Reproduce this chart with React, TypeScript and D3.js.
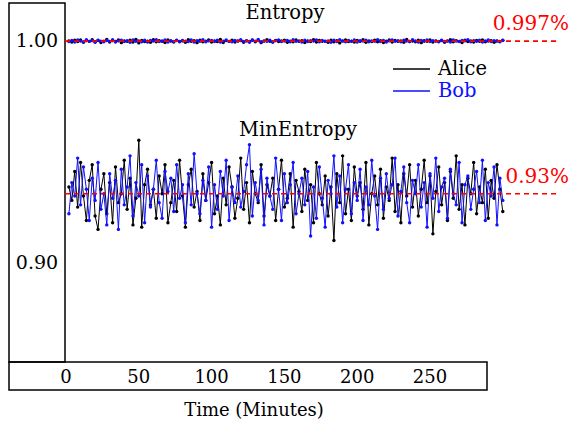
import * as d3 from "d3";

// sample times (minutes)
const minutes = [
  2, 4, 6, 8, 10, 12, 14, 16, 18, 20, 22, 24, 26, 28, 30,
  32, 34, 36, 38, 40, 42, 44, 46, 48, 50, 52, 54, 56, 58, 60,
  62, 64, 66, 68, 70, 72, 74, 76, 78, 80, 82, 84, 86, 88, 90,
  92, 94, 96, 98, 100, 102, 104, 106, 108, 110, 112, 114, 116, 118, 120,
  122, 124, 126, 128, 130, 132, 134, 136, 138, 140, 142, 144, 146, 148, 150,
  152, 154, 156, 158, 160, 162, 164, 166, 168, 170, 172, 174, 176, 178, 180,
  182, 184, 186, 188, 190, 192, 194, 196, 198, 200, 202, 204, 206, 208, 210,
  212, 214, 216, 218, 220, 222, 224, 226, 228, 230, 232, 234, 236, 238, 240,
  242, 244, 246, 248, 250, 252, 254, 256, 258, 260, 262, 264, 266, 268, 270,
  272, 274, 276, 278, 280, 282, 284, 286, 288, 290, 292, 294, 296, 298, 300,
];

const aliceEntropy = [
  0.9996, 0.9991, 0.9999, 0.9993, 1.0, 0.999, 0.9997, 0.9994, 1.0001, 0.9992,
  0.9998, 0.9989, 0.9995, 1.0002, 0.9991, 0.9997, 0.9993, 1.0, 0.9988, 0.9996,
  0.9994, 0.9999, 0.9991, 1.0003, 0.9987, 0.9998, 0.9993, 0.9995, 0.999, 1.0001,
  0.9992, 0.9997, 0.9994, 0.9989, 1.0, 0.9995, 0.9991, 0.9998, 0.9993, 0.9996,
  0.999, 1.0001, 0.9994, 0.9997, 0.9988, 0.9999, 0.9992, 0.9995, 1.0, 0.9991,
  0.9996, 0.9993, 1.0002, 0.9989, 0.9997, 0.9994, 0.9999, 0.9991, 0.9995, 0.9998,
  0.999, 0.9996, 0.9993, 1.0, 0.9992, 0.9997, 0.9988, 0.9995, 1.0001, 0.9994,
  0.9991, 0.9998, 0.9993, 0.9996, 0.9999, 0.999, 0.9995, 0.9992, 1.0, 0.9994,
  0.9997, 0.9989, 0.9996, 0.9993, 1.0001, 0.9991, 0.9998, 0.9994, 0.9995, 0.999,
  0.9999, 0.9992, 0.9997, 0.9987, 0.9996, 1.0, 0.9993, 0.9995, 0.9991, 0.9998,
  0.9994, 1.0001, 0.999, 0.9996, 0.9993, 0.9999, 0.9992, 0.9997, 0.9989, 0.9995,
  1.0, 0.9991, 0.9998, 0.9994, 0.9996, 0.999, 1.0002, 0.9993, 0.9995, 0.9992,
  0.9999, 0.9988, 0.9997, 0.9994, 1.0, 0.9991, 0.9996, 0.9993, 0.9998, 0.999,
  0.9995, 1.0001, 0.9992, 0.9997, 0.9994, 0.9989, 0.9999, 0.9993, 0.9996, 0.9991,
  0.9998, 0.9994, 1.0, 0.9992, 0.9995, 0.9997, 0.999, 0.9996, 0.9993, 0.9999,
];

const bobEntropy = [
  0.9993, 0.9998, 0.9991, 1.0, 0.9995, 0.9992, 1.0001, 0.9994, 0.9997, 0.999,
  0.9999, 0.9995, 0.9992, 0.9998, 0.9994, 1.0001, 0.9991, 0.9996, 0.9999, 0.9993,
  0.9997, 0.999, 1.0, 0.9994, 0.9996, 0.9992, 0.9999, 0.9991, 0.9998, 0.9995,
  1.0001, 0.9993, 0.9996, 1.0, 0.9991, 0.9997, 0.9994, 0.9999, 0.9992, 0.9998,
  0.9995, 0.9993, 1.0, 0.9991, 0.9997, 0.9994, 1.0001, 0.9992, 0.9996, 0.9998,
  0.9993, 0.9999, 0.9991, 0.9995, 1.0, 0.9994, 0.9992, 0.9998, 0.9996, 1.0001,
  0.9993, 0.9997, 0.999, 0.9999, 0.9995, 1.0002, 0.9992, 0.9996, 0.9994, 0.9999,
  0.9991, 0.9997, 1.0, 0.9993, 0.9995, 0.9998, 0.9992, 1.0001, 0.9994, 0.9996,
  0.9991, 0.9999, 0.9993, 0.9997, 0.9995, 1.0, 0.9992, 0.9998, 0.9994, 0.9996,
  0.999, 0.9999, 0.9993, 1.0001, 0.9995, 0.9992, 0.9998, 0.9994, 1.0, 0.9991,
  0.9997, 0.9995, 0.9999, 0.9992, 0.9996, 0.9994, 1.0001, 0.9993, 0.9998, 0.9991,
  0.9996, 1.0, 0.9994, 0.9997, 0.9992, 0.9999, 0.9995, 0.9993, 1.0001, 0.9996,
  0.9991, 0.9998, 0.9994, 1.0, 0.9993, 0.9997, 0.9995, 0.9992, 0.9999, 0.9994,
  0.9996, 0.9991, 1.0, 0.9995, 0.9993, 0.9998, 0.9996, 1.0001, 0.9992, 0.9997,
  0.9994, 0.9999, 0.9991, 0.9996, 1.0, 0.9993, 0.9997, 0.9995, 0.9992, 0.9998,
];

const aliceMinEntropy = [
  0.934, 0.928, 0.941, 0.925, 0.945, 0.93, 0.919, 0.937, 0.944, 0.921,
  0.915, 0.933, 0.94, 0.922, 0.936, 0.918, 0.943, 0.927, 0.931, 0.946,
  0.924, 0.938, 0.917, 0.929, 0.955, 0.916, 0.935, 0.942, 0.926, 0.933,
  0.92, 0.939, 0.931, 0.944, 0.918, 0.927, 0.937, 0.923, 0.946, 0.93,
  0.916, 0.935, 0.942, 0.925, 0.932, 0.919, 0.94, 0.928, 0.936, 0.945,
  0.922, 0.93, 0.917, 0.938, 0.926, 0.943, 0.934, 0.92, 0.929, 0.947,
  0.924, 0.936, 0.918, 0.941, 0.931, 0.927, 0.944, 0.921, 0.935, 0.93,
  0.938, 0.919, 0.933, 0.946, 0.925, 0.929, 0.94, 0.916, 0.937, 0.932,
  0.923, 0.942, 0.928, 0.935, 0.918, 0.945, 0.931, 0.926, 0.939, 0.921,
  0.934, 0.91, 0.94, 0.927, 0.948, 0.922, 0.933, 0.919, 0.943, 0.93,
  0.936, 0.924, 0.945, 0.917, 0.931, 0.939, 0.926, 0.942, 0.92, 0.934,
  0.928, 0.947, 0.923, 0.935, 0.918, 0.94, 0.93, 0.944, 0.925, 0.937,
  0.921, 0.933, 0.946, 0.927, 0.939, 0.913, 0.932, 0.943, 0.926, 0.936,
  0.919, 0.941, 0.929, 0.948, 0.924, 0.935, 0.917, 0.938, 0.931, 0.945,
  0.922, 0.934, 0.927, 0.942, 0.92, 0.937, 0.929, 0.944, 0.933, 0.923,
];

const bobMinEntropy = [
  0.922, 0.936, 0.93, 0.947, 0.926, 0.943, 0.933, 0.919, 0.938, 0.928,
  0.945, 0.924, 0.931, 0.917, 0.94, 0.929, 0.937, 0.915, 0.942, 0.926,
  0.934, 0.948, 0.921, 0.936, 0.93, 0.944, 0.918, 0.939, 0.925, 0.933,
  0.946, 0.927, 0.92, 0.941, 0.932, 0.938, 0.923, 0.944, 0.929, 0.935,
  0.918, 0.94, 0.926, 0.949, 0.931, 0.922, 0.937, 0.928, 0.943, 0.916,
  0.935, 0.924, 0.941, 0.93, 0.946, 0.919, 0.934, 0.927, 0.939, 0.925,
  0.932, 0.944, 0.953, 0.921, 0.936, 0.928, 0.942, 0.917, 0.938, 0.93,
  0.924, 0.947, 0.933, 0.919, 0.94, 0.927, 0.935, 0.945, 0.922, 0.931,
  0.938, 0.926, 0.941, 0.912, 0.934, 0.92, 0.943, 0.929, 0.916, 0.937,
  0.931, 0.948, 0.925, 0.939, 0.918, 0.933, 0.944, 0.922, 0.936, 0.928,
  0.942, 0.919, 0.934, 0.926, 0.946, 0.93, 0.915, 0.938, 0.924, 0.94,
  0.929, 0.935, 0.947, 0.921, 0.932, 0.943, 0.927, 0.918, 0.937, 0.931,
  0.944, 0.925, 0.936, 0.916, 0.94, 0.929, 0.947, 0.923, 0.934, 0.938,
  0.92, 0.942, 0.931, 0.926, 0.945, 0.918, 0.935, 0.939, 0.924, 0.933,
  0.941, 0.927, 0.946, 0.919, 0.936, 0.93, 0.943, 0.917, 0.938, 0.928,
];

const xTicks = [0, 50, 100, 150, 200, 250];
const yTicks = [1.0, 0.9];
const refLines = [
  { value: 0.9995, label: "0.997%" },
  { value: 0.931, label: "0.93%" },
];
const series = [
  { name: "Alice", color: "#000000", entropy: aliceEntropy, minEntropy: aliceMinEntropy },
  { name: "Bob", color: "#1010ff", entropy: bobEntropy, minEntropy: bobMinEntropy },
];

const W = 571;
const H = 426;
const serif = { fontFamily: '"DejaVu Serif", "Liberation Serif", serif' };

export default function App() {
  const x = d3.scaleLinear().domain([0, 250]).range([66, 430]);
  const y = d3.scaleLinear().domain([0.9, 1.0]).range([262.8, 40]);

  const line = d3
    .line<number>()
    .x((_, i) => x(minutes[i]))
    .y((d) => y(d));

  return (
    <svg
      width={W}
      height={H}
      style={{ position: "absolute", left: 0, top: 0, background: "#fff", ...serif }}
    >
      {/* left box holding the y tick labels */}
      <rect x={9} y={3} width={56} height={359} fill="none" stroke="#000" strokeWidth={1.5} />
      {yTicks.map((t) => (
        <text key={t} x={37} y={y(t)} dy="0.35em" textAnchor="middle" fontSize={19} style={serif}>
          {t.toFixed(2)}
        </text>
      ))}

      {/* bottom box holding the x tick labels */}
      <rect x={9} y={362} width={478} height={28} fill="none" stroke="#000" strokeWidth={1.5} />
      {xTicks.map((t) => (
        <text key={t} x={x(t)} y={377} dy="0.35em" textAnchor="middle" fontSize={18} style={serif}>
          {t}
        </text>
      ))}
      <text x={254} y={410} dy="0.35em" textAnchor="middle" fontSize={18} style={serif}>
        Time (Minutes)
      </text>

      <text x={285} y={19} textAnchor="middle" fontSize={19.5} style={serif}>
        Entropy
      </text>
      <text x={298} y={136} textAnchor="middle" fontSize={19.5} style={serif}>
        MinEntropy
      </text>

      {series.map((s) => (
        <g key={s.name}>
          {[s.entropy, s.minEntropy].map((vals, k) => (
            <g key={k}>
              <path d={line(vals) ?? ""} fill="none" stroke={s.color} strokeWidth={1} />
              {vals.map((v, i) => (
                <circle key={i} cx={x(minutes[i])} cy={y(v)} r={1.7} fill={s.color} />
              ))}
            </g>
          ))}
        </g>
      ))}

      {refLines.map((r) => (
        <g key={r.label}>
          <line
            x1={65}
            x2={557}
            y1={y(r.value)}
            y2={y(r.value)}
            stroke="#ff0000"
            strokeWidth={1.6}
            strokeDasharray="5,4"
          />
          <text x={569} y={y(r.value) - 11} textAnchor="end" fontSize={20} fill="#ff0000" style={serif}>
            {r.label}
          </text>
        </g>
      ))}

      {series.map((s, i) => (
        <g key={s.name} transform={`translate(393, ${69 + i * 22})`}>
          <line x1={0} x2={37} y1={0} y2={0} stroke={s.color} strokeWidth={1.5} />
          <text x={45} y={0} dy="0.3em" fontSize={19.5} fill={s.color} style={serif}>
            {s.name}
          </text>
        </g>
      ))}
    </svg>
  );
}
